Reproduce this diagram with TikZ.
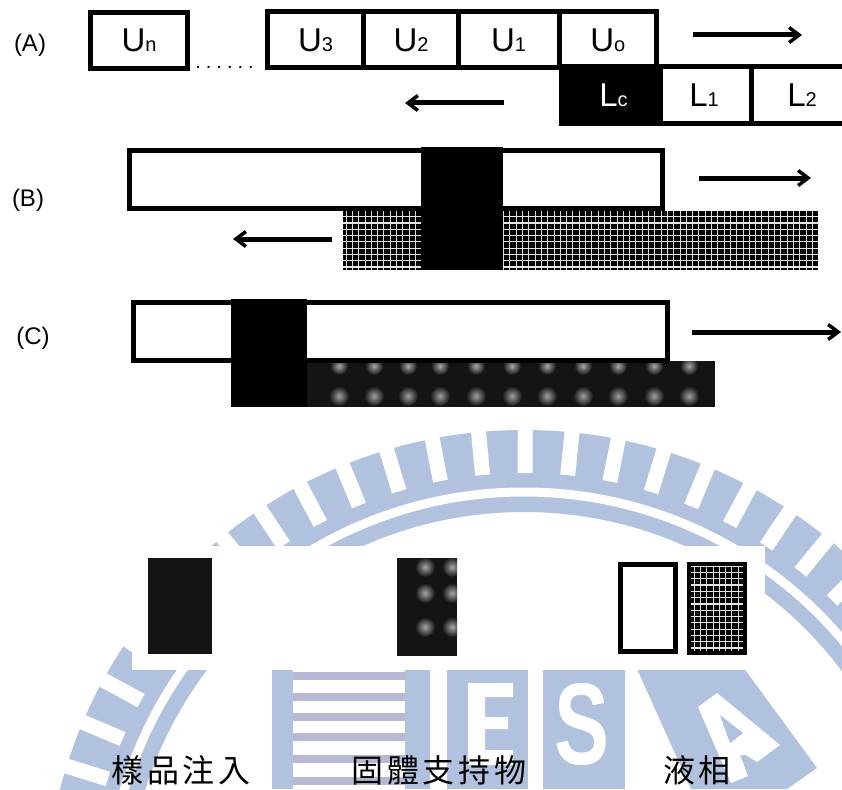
\documentclass[tikz,border=0pt]{standalone}
\usepackage{fontspec}
\setmainfont{Liberation Sans}
\newfontfamily\cjk[LetterSpace=12]{Noto Sans CJK TC}
\usetikzlibrary{arrows.meta,shadings}
\definecolor{wmblue}{HTML}{B1C2DF}
\definecolor{wmstripe}{HTML}{B6B8D4}
\newcommand{\cellname}[2]{\raisebox{-2.5pt}{{\fontsize{33}{33}\selectfont #1}{\fontsize{20}{20}\selectfont #2}}}
\newcommand{\hatchfill}[4]{%
  \begin{scope}
    \clip (#1,#2) rectangle (#3,#4);
    \fill[black] (#1,#2) rectangle (#3,#4);
    \foreach \k in {0,...,80} { \draw[white!85!black,line width=0.8pt] (#1+3+\k*6.3,#2) -- (#1+3+\k*6.3,#4); }
    \foreach \k in {0,...,16} { \draw[white!90!black,line width=1.2pt] (#1,#2+3+\k*6.3) -- (#3,#2+3+\k*6.3); }
  \end{scope}}
\tikzset{
  cell/.style={draw=black, line width=5pt, fill=white, inner sep=0pt, minimum height=56pt},
  bar/.style={draw=black, line width=5pt, fill=white},
  flow/.style={line width=5pt, -{Straight Barb[length=10pt,width=15pt,line width=3.5pt]}},
  tag/.style={font=\fontsize{24}{24}\selectfont, inner sep=0pt},
  caption/.style={font=\cjk\fontsize{32}{32}\selectfont, inner sep=0pt}
}
\begin{document}
\begin{tikzpicture}[x=1pt,y=1pt]
  \useasboundingbox (0,0) rectangle (842,-789);
  \clip (0,0) rectangle (842,-789);
  \fill[white] (0,0) rectangle (842,-789);
  % Watermark ring
  \coordinate (wm) at (524,-909);
  \fill[wmblue, even odd rule] (wm) circle[radius=479pt] (wm) circle[radius=397pt];
  \draw[white, line width=9pt] (wm) circle[radius=417pt];
  \foreach \a in {-28,-22.4,...,212} {
    \draw[white, line width=15pt] ([shift={(\a+0.25:436pt)}]wm) -- ([shift={(\a+0.25:490pt)}]wm);
  }
  % Watermark block with stripes
  \fill[wmblue] (272,-660) rectangle (293,-789);
  \fill[wmblue] (405,-660) rectangle (430,-789);
  \foreach \y in {-672,-693,-713,-733,-755,-777} { \fill[wmstripe] (293,\y) rectangle (405,\y-8); }
  % Watermark letters
  \fill[wmblue] (447,-660) rectangle (528,-789);
  \fill[white] (468,-683) -- (513,-683) -- (513,-697) -- (485,-697) -- (485,-717) -- (508,-717) -- (508,-729)
    -- (485,-729) -- (485,-750) -- (513,-750) -- (513,-765) -- (468,-765) -- cycle;
  \fill[wmblue] (543,-660) rectangle (625,-789);
  \node[font=\bfseries\fontsize{116}{116}\selectfont, text=white, xscale=0.71, inner sep=0pt] (wmS) at (582,-725) {S};
  \fill[wmblue] (633,-660) -- (738,-660) -- (817,-768) -- (787,-789) -- (691,-789) -- cycle;
  \fill[white] (698,-707) -- (717,-693) -- (780,-745) -- (757,-762) -- (746,-755) -- (740,-755) -- (748,-776)
    -- (731,-783) -- cycle;
  \fill[wmblue] (720,-715) -- (743,-733) -- (730,-743) -- cycle;
  % Legend background
  \fill[white] (132,-546) rectangle (765,-670);

  % Row A
  \node[cell, minimum width=97pt] (un) at (139,-40.5) {\cellname{U}{n}};
  \node[font=\fontsize{20}{20}\selectfont, inner sep=0pt, anchor=base] (dots) at (224.5,-68.5) {.\kern5pt.\kern5pt.\kern5pt.\kern5pt.\kern5pt.};
  \node[cell, minimum width=96pt] (u3) at (315.5,-40) {\cellname{U}{3}};
  \node[cell, minimum width=95pt] (u2) at (411,-40) {\cellname{U}{2}};
  \node[cell, minimum width=101pt] (u1) at (508.5,-40) {\cellname{U}{1}};
  \node[cell, minimum width=97.5pt] (u0) at (607.8,-40) {\cellname{U}{o}};
  \node[cell, minimum width=97pt, fill=black, text=white] (lc) at (609.5,-95) {\hspace{8pt}\cellname{L}{c}};
  \node[cell, minimum width=91pt] (l1) at (705.5,-95) {\hspace{-3pt}\cellname{L}{1}};
  \node[cell, minimum width=105pt] (l2) at (803.5,-95) {\hspace{-3pt}\cellname{L}{2}};
  \coordinate (a1s) at (693,-35); \coordinate (a1e) at (802,-35);
  \coordinate (a2s) at (504,-103); \coordinate (a2e) at (405,-103);
  \draw[flow] (a1s) -- (a1e);
  \draw[flow] (a2s) -- (a2e);
  \node[tag] (tagA) at (30,-45) {(A)};

  % Row B
  \hatchfill{343}{-270}{818}{-211}
  \node[bar, minimum width=533pt, minimum height=58pt, inner sep=0pt] (barB) at (396,-179) {};
  \fill[black] (421,-147) rectangle (503,-270);
  \coordinate (b1s) at (699,-178); \coordinate (b1e) at (811,-178);
  \coordinate (b2s) at (332,-239); \coordinate (b2e) at (233,-239);
  \draw[flow] (b1s) -- (b1e);
  \draw[flow] (b2s) -- (b2e);
  \node[tag] (tagB) at (28,-200) {(B)};

  % Row C
  \begin{scope}
    \clip (306,-361) rectangle (715,-407);
    \fill[black!92] (306,-361) rectangle (715,-407);
    \foreach \px in {339,374,408,440,476,512,547,583,618,654,689} {
      \shade[inner color=gray!70, outer color=black!92] (\px,-366) circle[radius=9pt];
      \shade[inner color=gray!75, outer color=black!92] (\px,-396) circle[radius=10pt];
    }
  \end{scope}
  \node[bar, minimum width=534pt, minimum height=58pt, inner sep=0pt] (barC) at (400.5,-331) {};
  \fill[black] (231,-299) rectangle (307,-407);
  \coordinate (c1s) at (692,-332); \coordinate (c1e) at (841,-332);
  \draw[flow] (c1s) -- (c1e);
  \node[tag] (tagC) at (33,-338) {(C)};

  % Legend
  \fill[black!92] (148,-558) rectangle (212,-654);
  \begin{scope}
    \clip (397,-558) rectangle (457,-656);
    \fill[black!92] (397,-558) rectangle (457,-656);
    \foreach \px in {425,452} { \foreach \py in {-567,-593,-627} {
      \shade[inner color=gray!70, outer color=black!92] (\px,\py) circle[radius=10pt];
    } }
  \end{scope}
  \node[bar, minimum width=55pt, minimum height=87pt, inner sep=0pt] (legL) at (648,-608) {};
  \fill[black] (687,-562) rectangle (747,-655);
  \hatchfill{691}{-651}{743}{-566}

  % Captions
  \node[caption] (capA) at (181,-770) {樣品注入};
  \node[caption] (capB) at (439,-770) {固體支持物};
  \node[caption] (capC) at (697,-770) {液相};
\end{tikzpicture}
\end{document}
